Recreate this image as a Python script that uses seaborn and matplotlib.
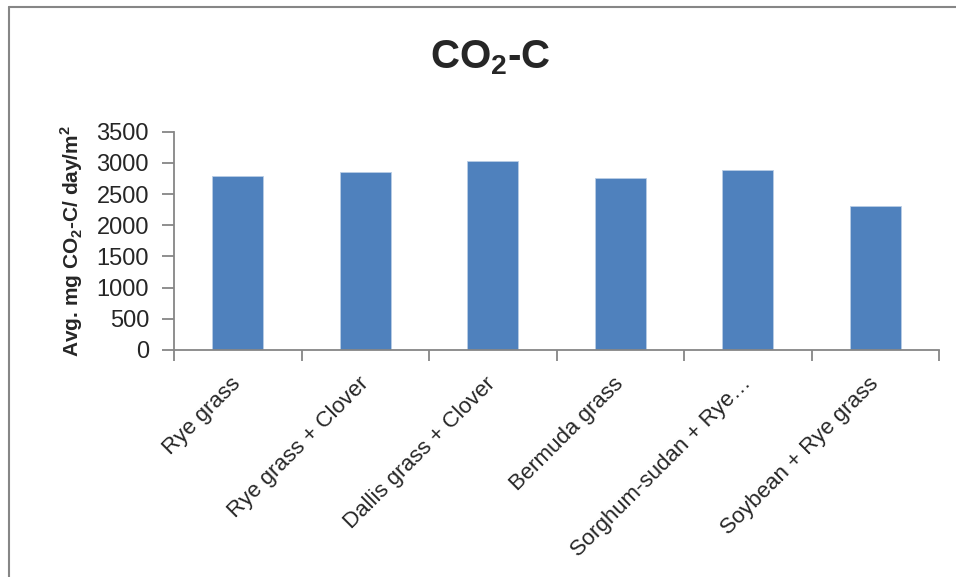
import matplotlib
matplotlib.use("Agg")
import matplotlib.pyplot as plt
import pandas as pd
import seaborn as sns
from matplotlib.lines import Line2D

CATEGORIES = [
    "Rye grass",
    "Rye grass + Clover",
    "Dallis grass + Clover",
    "Bermuda grass",
    "Sorghum-sudan + Rye\u2026",
    "Soybean + Rye grass",
]
VALUES = [2790, 2855, 3030, 2765, 2885, 2310]
Y_TICKS = [0, 500, 1000, 1500, 2000, 2500, 3000, 3500]

BAR = "#4F81BD"
AXIS = "#868686"

sns.set_theme(style="white")
plt.rcParams["font.family"] = ["Liberation Sans", "DejaVu Sans"]
plt.rcParams["mathtext.fontset"] = "custom"
plt.rcParams["mathtext.rm"] = "Liberation Sans"
plt.rcParams["mathtext.bf"] = "Liberation Sans:bold"

df = pd.DataFrame({"crop": CATEGORIES, "co2": VALUES})

W, H = 956, 577
fig = plt.figure(figsize=(W / 100, H / 100), dpi=100)
ax = fig.add_axes([174 / W, 1 - 350 / H, (939 - 174) / W, (350 - 131.7) / H])

sns.barplot(data=df, x="crop", y="co2", color=BAR, width=0.4, saturation=1,
            edgecolor="#b9cde5", linewidth=0.6, ax=ax)

ax.set_xlim(-0.5, len(CATEGORIES) - 0.5)
ax.set_ylim(0, 3500)
ax.set_yticks(Y_TICKS)
ax.set_yticklabels([str(v) for v in Y_TICKS], fontsize=17)

for s in ["top", "right"]:
    ax.spines[s].set_visible(False)
for s in ["left", "bottom"]:
    ax.spines[s].set_color(AXIS)
    ax.spines[s].set_linewidth(1.3)

ax.set_xticks(range(len(CATEGORIES)))
ax.set_xticklabels(CATEGORIES, rotation=45, ha="right", va="center",
                   rotation_mode="anchor", fontsize=16)
ax.set_xticks([i - 0.5 for i in range(len(CATEGORIES) + 1)], minor=True)
ax.tick_params(axis="x", which="major", length=0, pad=22)
ax.tick_params(axis="x", which="minor", length=8, width=1.3, color=AXIS,
               direction="out", bottom=True)
ax.tick_params(axis="y", length=9, width=1.3, color=AXIS, direction="out",
               left=True, pad=9)

ax.set_xlabel("")
ax.set_ylabel(r"Avg. mg CO$_\mathbf{2}$-C/ day/m$^\mathbf{2}$",
              fontsize=15, fontweight="bold", labelpad=8)

fig.text(490 / W, 1 - 58 / H, r"CO$_\mathbf{2}$-C", fontsize=29,
         fontweight="bold", ha="center", va="center")

# chart area border
fig.add_artist(Line2D([8.5 / W, 8.5 / W], [0, 1 - 6.5 / H], color=AXIS,
                      lw=1.5, transform=fig.transFigure))
fig.add_artist(Line2D([8.5 / W, 1], [1 - 6.5 / H, 1 - 6.5 / H], color=AXIS,
                      lw=1.5, transform=fig.transFigure))

fig.savefig("out.png", dpi=100, facecolor="white")
